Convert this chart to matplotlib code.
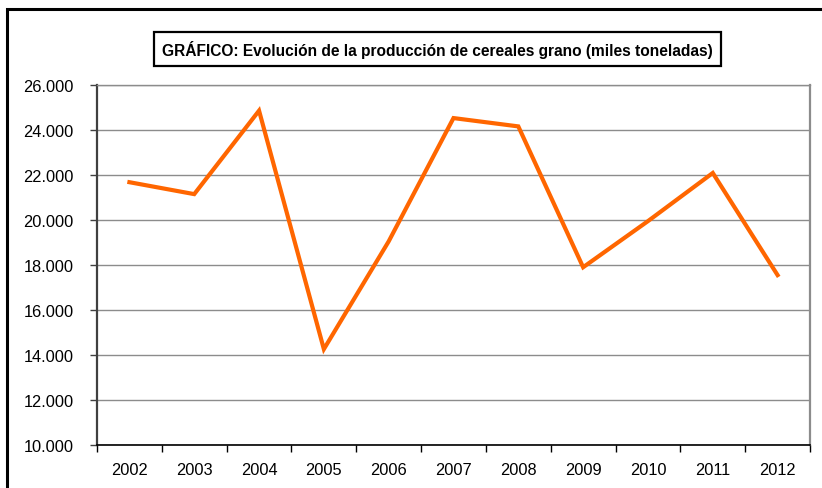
import numpy as np
import matplotlib
matplotlib.use('Agg')
import matplotlib.pyplot as plt
from matplotlib.patches import Rectangle

# Data (miles de toneladas)
years = ['2002', '2003', '2004', '2005', '2006', '2007', '2008', '2009', '2010', '2011', '2012']
produccion = [21680, 21150, 24860, 14260, 19050, 24530, 24160, 17900, 19950, 22090, 17550]
yticks = [10000, 12000, 14000, 16000, 18000, 20000, 22000, 24000, 26000]
title = 'GRÁFICO: Evolución de la producción de cereales grano (miles toneladas)'

plt.rcParams['font.family'] = ['Liberation Sans', 'DejaVu Sans']

W, H = 822, 489
fig = plt.figure(figsize=(W / 100, H / 100), dpi=100)

# outer frame (only left and top edges visible)
fig.add_artist(Rectangle((7 / W, -0.1), 1.2, (H - 10) / H + 0.1, transform=fig.transFigure,
                         fill=False, edgecolor='black', lw=2.2))

ax = fig.add_axes([97 / W, (H - 446) / H, (810 - 97) / W, (446 - 86) / H])
x = np.arange(len(years))
ax.plot(x, produccion, color='#FF6600', lw=3.0, solid_joinstyle='miter', zorder=3)

ax.set_ylim(10000, 26000)
ax.set_yticks(yticks)
ax.set_yticklabels(['{:,}'.format(v).replace(',', '.') for v in yticks], fontsize=11.8)
ax.yaxis.grid(True, color='#8c8c8c', lw=1)
ax.tick_params(axis='y', direction='out', length=5, width=1, color='#404040', pad=12)

ax.set_xlim(-0.5, len(years) - 0.5)
ax.set_xticks(np.arange(len(years) + 1) - 0.5)
ax.set_xticklabels([])
ax.set_xticks(x, minor=True)
ax.set_xticklabels(years, minor=True, fontsize=11.8)
ax.tick_params(axis='x', which='major', direction='out', length=5, width=1, color='black')
ax.tick_params(axis='x', which='minor', length=0, pad=12)

ax.spines['left'].set_color('#404040')
ax.spines['left'].set_linewidth(1.6)
ax.spines['bottom'].set_color('black')
ax.spines['bottom'].set_linewidth(1.2)
ax.spines['right'].set_color('#8c8c8c')
ax.spines['right'].set_linewidth(1.6)
ax.spines['top'].set_color('#8c8c8c')
ax.spines['top'].set_linewidth(1)

fig.text(437.5 / W, 1 - 50 / H, title, ha='center', va='center', fontsize=11.2,
         fontweight='bold',
         bbox=dict(boxstyle='square,pad=0.5', facecolor='white', edgecolor='black', lw=1.6))

fig.savefig('out.png', dpi=100)
